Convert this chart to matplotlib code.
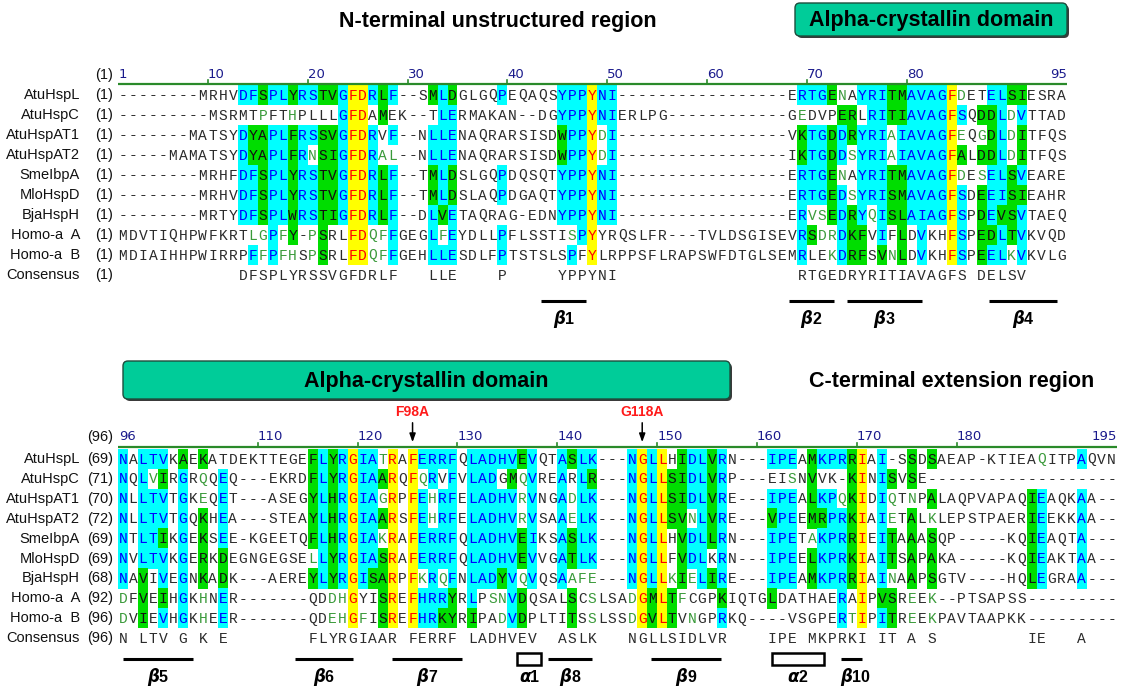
import matplotlib
matplotlib.use("Agg")
import matplotlib.pyplot as plt
from matplotlib.patches import Rectangle, FancyBboxPatch

# ---------------- data ----------------
names = ["AtuHspL", "AtuHspC", "AtuHspAT1", "AtuHspAT2", "SmeIbpA",
         "MloHspD", "BjaHspH", "Homo-a  A", "Homo-a  B"]

top_starts = [1, 1, 1, 1, 1, 1, 1, 1, 1]
bot_starts = [69, 71, 70, 72, 69, 69, 68, 92, 96]

top_seqs = [
    "--------MRHVDFSPLYRSTVGFDRLF--SMLDGLGQPEQAQSYPPYNI-----------------ERTGENAYRITMAVAGFDETELSIESRA",
    "---------MSRMTPFTHPLLLGFDAMEK--TLERMAKAN--DGYPPYNIERLPG------------GEDVPERLRITIAVAGFSQDDLDVTTAD",
    "-------MATSYDYAPLFRSSVGFDRVF--NLLENAQRARSISDWPPYDI-----------------VKTGDDRYRIAIAVAGFEQGDLDITFQS",
    "-----MAMATSYDYAPLFRNSIGFDRAL--NLLENAQRARSISDWPPYDI-----------------IKTGDDSYRIAIAVAGFALDDLDITFQS",
    "--------MRHFDFSPLYRSTVGFDRLF--TMLDSLGQPDQSQTYPPYNI-----------------ERTGENAYRITMAVAGFDESELSVEARE",
    "--------MRHVDFSPLYRSTVGFDRLF--TMLDSLAQPDGAQTYPPYNI-----------------ERTGEDSYRISMAVAGFSDEEISIEAHR",
    "--------MRTYDFSPLWRSTIGFDRLF--DLVETAQRAG-EDNYPPYNI-----------------ERVSEDRYQISLAIAGFSPDEVSVTAEQ",
    "MDVTIQHPWFKRTLGPFY-PSRLFDQFFGEGLFEYDLLPFLSSTISPYYRQSLFR---TVLDSGISEVRSDRDKFVIFLDVKHFSPEDLTVKVQD",
    "MDIAIHHPWIRRPFFPFHSPSRLFDQFFGEHLLESDLFPTSTSLSPFYLRPPSFLRAPSWFDTGLSEMRLEKDRFSVNLDVKHFSPEELKVKVLG",
]
# shading class per residue: '.' plain, 'g' green letter, 'c' cyan block,
# 'G' green block, 'y' yellow (identical in all)
top_cls = [
    (".........." "..ccGccGcc" "GGcyycGc.." ".GcG....c." "....cccycc"
     ".........." "........cc" "cGg.cccGGc" "cccyg..ccG" "G...."),
    (".........." "....g..g.." "..cyy.G..." "..cc......" "....cccycc"
     ".........." "........g." "..GG.ccGGc" "cccyc.GGcg" "c...."),
    (".........." "..cGGccGcc" "GGcyyc.c.." ".ccc......" "....Gccygc"
     ".........." "........Gc" "cGcGcccgcc" "cccyg.gGcg" "G...."),
    (".........." "..cGGccGcg" "GGcyycgg.." ".ccc......" "....Gccygc"
     ".........." "........Gc" "cGcgcccgcc" "cccyG.GGcg" "G...."),
    (".........." "..ccGccGcc" "GGcyycGc.." ".GcG....c." "....cccycc"
     ".........." "........cc" "cGg.cccGGc" "cccyg.gccG" "c...."),
    (".........." "..ccGccGcc" "GGcyycGc.." ".GcG....c." "....cccycc"
     ".........." "........cc" "cGcgcccGGc" "cccyc.GccG" "G...."),
    (".........." "..ccGccGcc" "GGcyycGc.." ".cGc......" "....cccycc"
     ".........." "........cg" "gGcGcgcGGc" "cccyc.GcGG" "c...."),
    (".........." "...ggcgG.g" "G..yyggc.." ".cgc....c." ".....gcy.."
     ".........." "........cG" "ggcGG.c.G." "c..yc.GGcG" "c...."),
    (".........." "...cgcgg.g" "G..yyggc.." ".ccc....c." ".....c.y.."
     ".........." "........c." ".gcGG.GgG." "c..yc.Gccg" "c...."),
]
top_cons = ("            " "DFSPLYRSSVGFDRLF" "   " "LLE" "    " "P" "     "
            "YPPYNI" "                  " "RTGEDRYRITIAVAGFS" " " "DELSV" "    ")

bot_seqs = [
    "NALTVKAEKATDEKTTEGEFLYRGIATRAFERRFQLADHVEVQTASLK---NGLLHIDLVRN---IPEAMKPRRIAI-SSDSAEAP-KTIEAQITPAQVN",
    "NQLVIRGRQQEQ---EKRDFLYRGIAARQFQRVFVLADGMQVREARLR---NGLLSIDLVRP---EISNVVK-KINISVSE-------------------",
    "NLLTVTGKEQET---ASEGYLHRGIAGRPFEHRFELADHVRVNGADLK---NGLLSIDLVRE---IPEALKPQKIDIQTNPALAQPVAPAQIEAQKAA--",
    "NLLTVTGQKHEA---STEAYLHRGIAARSFEHRFELADHVRVSAAELK---NGLLSVNLVRE---VPEEMRPRKIAIETALKLEPSTPAERIEEKKAA--",
    "NTLTIKGEKSEE-KGEETQFLHRGIAKRAFERRFQLADHVEIKSASLK---NGLLHVDLLRN---IPETAKPRRIEITAAASQP-----KQIEAQTA---",
    "NVLTVKGERKDEGNGEGSELLYRGIASRAFERRFQLADHVEVVGATLK---NGLLFVDLKRN---IPEELKPRKIAITSAPAKA-----KQIEAKTAA--",
    "NAVIVEGNKADK---AEREYLYRGISARPFKRQFNLADYVQVQSAAFE---NGLLKIELIRE---IPEAMKPRRIAINAAPSGTV----HQLEGRAA---",
    "DFVEIHGKHNER-------QDDHGYISREFHRRYRLPSNVDQSALSCSLSADGMLTFCGPKIQTGLDATHAERAIPVSREEK--PTSAPSS---------",
    "DVIEVHGKHEER-------QDEHGFISREFHRKYRIPADVDPLTITSSLSSDGVLTVNGPRKQ----VSGPERTIPITREEKPAVTAAPKK---------",
]
bot_cls = [
    ("c.ccc.G.G." ".........G" "cGcyccgy.y" "cccc.ccccc" "Gc..cGcc.."
     ".cycy.GccG" "c....ccc.G" "cccGy.c..G" ".G........" "..g...c..."),
    ("c.cgG.c.g." "c........G" "cGcyccGy.y" "gc.c.ccc.G" "gc..c.cG.."
     ".cycyGGccG" "c......g.G" "...Gy.cG.G" ".........." ".........."),
    ("c.ccc.c.g." "c........G" "cGcyccgy.y" "cgcc.ccccc" "gc..cgcc.."
     ".cycyGGccG" "c....ccc.G" "ccgGy.cg.g" ".G........" ".Gc...c..."),
    ("c.ccc.c.G." "c........G" "cGcyccGy.y" "cgcc.ccccc" "gc..cgcc.."
     ".cycyGGgcG" "c....Gcc.G" "GccGy.cg.G" ".g........" ".Gc...c..."),
    ("c.ccG.c.G." "c........G" "cGcyccgy.y" "cccc.ccccc" "Gc..cGcc.."
     ".cycy.GccG" "c....ccc.g" "cccGy.cG.G" ".G........" ".Gc...c..."),
    ("c.ccc.c.G." "G........g" "cGcyccGy.y" "cccc.ccccc" "Gc..cGcc.."
     ".cycy.Gcc." "c....ccc.G" "cccGy.cG.G" ".G........" ".Gc...c..."),
    ("c.G.c.c.G." "G........G" "cGcycGGy.y" "gcgc.cccGc" "gc..cggg.."
     ".cycygGgcG" "c....ccc.G" "cccGy.cg.G" ".G........" ".Gc...c..."),
    ("g.G.G.c.g." "c........." ".ggy..Gy.y" "cccG.c.ggc" "G....G.g.."
     ".gyGyGg..." "G....G...." "..c.y.GG.g" ".g........" ".........."),
    ("g.G.c.c.g." "c........." ".ggyg.Gy.y" "ccGG.G..gc" "G....G.g.."
     ".gyGyG.g.." "c........." "..cgy.cG.g" ".g........" ".........."),
]
bot_cons = ("N LTV G K E" "        " "FLYRGIAAR" " " "FERRF" " " "LADHVEV" "  "
            "ASLK" "   " "NGLLSIDLVR" "    " "IPE" " " "MKPRKI" " " "IT" " " "A"
            " " "S" "         " "IE" "   " "A" "   ")

top_ruler = [1, 10, 20, 30, 40, 50, 60, 70, 80, 95]
bot_ruler = [96, 110, 120, 130, 140, 150, 160, 170, 180, 195]

# secondary structure: (kind, number, start column, end column)
top_ss = [("b", "1", 43.4, 47.9), ("b", "2", 68.2, 72.7),
          ("b", "3", 74.0, 81.5), ("b", "4", 88.2, 95.0)]
bot_ss = [("b", "5", 96.5, 103.5), ("b", "6", 113.7, 119.5),
          ("b", "7", 123.4, 130.5), ("a", "1", 136.0, 138.4),
          ("b", "8", 139.1, 143.5), ("b", "9", 149.4, 156.4),
          ("a", "2", 161.5, 166.7), ("b", "10", 168.4, 170.5)]

mutations = [("F98A", 125), ("G118A", 148)]

# ---------------- style ----------------
W, H = 1126, 686
X0, CW = 118.0, 9.985
MONO = "Liberation Mono"
SANS = "Liberation Sans"

BG = {"c": "#00ffff", "G": "#00dd00", "y": "#ffff00"}
FG = {".": "#2b2b2b", "g": "#3a9a3a", "c": "#0000ff", "G": "#111111", "y": "#ff0000"}

fig = plt.figure(figsize=(W / 100, H / 100), dpi=100)
ax = fig.add_axes([0, 0, 1, 1])
ax.set_xlim(0, W)
ax.set_ylim(H, 0)
ax.axis("off")


def cx(pos, first):
    return X0 + (pos - first) * CW


def draw_block(first, n, seqs, cls, cons, starts, ruler, ruler_line_y,
               ruler_lab_y, y0, rh):
    seqs = [s.ljust(n, "-")[:n] for s in seqs]
    cls = [c.ljust(n, ".")[:n] for c in cls]
    cons = cons.ljust(n)[:n]
    # ruler
    ax.plot([cx(first, first), cx(first + n, first)], [ruler_line_y] * 2,
            color="#2a8a2a", lw=1.6, solid_capstyle="butt")
    for i, v in enumerate(ruler):
        if i == 0:
            ax.text(cx(v, first) + 1, ruler_lab_y, str(v), ha="left", va="center",
                    color="#1a1a8c", fontsize=9.5, family="DejaVu Sans")
        elif i == len(ruler) - 1:
            ax.text(cx(first + n, first), ruler_lab_y, str(v), ha="right",
                    va="center", color="#1a1a8c", fontsize=9.5,
                    family="DejaVu Sans")
        else:
            ax.text(cx(v, first), ruler_lab_y, str(v), ha="left", va="center",
                    color="#1a1a8c", fontsize=9.5, family="DejaVu Sans")
            ax.plot([cx(v, first)] * 2, [ruler_line_y, ruler_line_y - 4],
                    color="#2a8a2a", lw=1.2)
    ax.text(113, ruler_lab_y, "(%d)" % first, ha="right", va="center",
            fontsize=10.5, family=SANS, color="#111111")
    # rows
    for r, (s, c) in enumerate(zip(seqs, cls)):
        yc = y0 + r * rh
        ax.text(80, yc, names[r], ha="right", va="center", fontsize=10.5,
                family=SANS, color="#111111")
        ax.text(113, yc, "(%d)" % starts[r], ha="right", va="center",
                fontsize=10.5, family=SANS, color="#111111")
        k = 0
        while k < n:
            ch = c[k]
            j = k
            while j < n and c[j] == ch:
                j += 1
            if ch in BG:
                ax.add_patch(Rectangle((cx(first + k, first), yc - rh / 2 - 0.3),
                                       (j - k) * CW, rh + 0.6, facecolor=BG[ch],
                                       edgecolor="none", lw=0, zorder=1))
            k = j
        for k, aa in enumerate(s):
            ax.text(cx(first + k, first) + CW / 2, yc + 0.5, aa, ha="center",
                    va="center", fontsize=10.5, family=MONO,
                    color=FG.get(c[k], "#2b2b2b"), zorder=3)
    yc = y0 + len(seqs) * rh
    ax.text(80, yc, "Consensus", ha="right", va="center", fontsize=10.5,
            family=SANS, color="#111111")
    ax.text(113, yc, "(%d)" % first, ha="right", va="center", fontsize=10.5,
            family=SANS, color="#111111")
    for k, aa in enumerate(cons):
        if aa != " ":
            ax.text(cx(first + k, first) + CW / 2, yc + 0.5, aa, ha="center",
                    va="center", fontsize=10.5, family=MONO, color="#2b2b2b")


def draw_ss(elems, first, line_y, lab_y):
    for kind, num, a, b in elems:
        xa, xb = cx(a, first), cx(b, first)
        if kind == "b":
            ax.plot([xa, xb], [line_y, line_y], color="black", lw=2.2,
                    solid_capstyle="butt")
            sym = "\u03b2"
        else:
            ax.add_patch(Rectangle((xa, line_y - 6), xb - xa, 12, facecolor="none",
                                   edgecolor="black", lw=1.8))
            sym = "\u03b1"
        xm = (xa + xb) / 2
        ax.text(xm + 1, lab_y, sym, ha="right", va="center", fontsize=12,
                family="DejaVu Sans", fontweight="bold", style="italic")
        ax.text(xm + 1, lab_y, num, ha="left", va="center", fontsize=11.5,
                family=SANS, fontweight="bold")


def domain_box(x1, x2, y1, y2, label):
    ax.add_patch(FancyBboxPatch((x1 + 2, y1 + 2), x2 - x1, y2 - y1,
                                boxstyle="round,pad=0,rounding_size=5",
                                facecolor="#3a3a3a", edgecolor="none", zorder=1))
    ax.add_patch(FancyBboxPatch((x1, y1), x2 - x1, y2 - y1,
                                boxstyle="round,pad=0,rounding_size=5",
                                facecolor="#00cc99", edgecolor="#1d4d3d", lw=1.0,
                                zorder=2))
    ax.text((x1 + x2) / 2, (y1 + y2) / 2 + 1, label, ha="center", va="center",
            fontsize=15.5, family=SANS, fontweight="bold", zorder=3)


# headers
ax.text(498, 21, "N-terminal unstructured region", ha="center", va="center",
        fontsize=15.5, family=SANS, fontweight="bold")
domain_box(795, 1067, 3, 36, "Alpha-crystallin domain")
domain_box(123, 730, 361, 399, "Alpha-crystallin domain")
ax.text(952, 381, "C-terminal extension region", ha="center", va="center",
        fontsize=15.5, family=SANS, fontweight="bold")

draw_block(1, 95, top_seqs, top_cls, top_cons, top_starts, top_ruler, 83.5, 75,
           95, 20.0)
draw_block(96, 100, bot_seqs, bot_cls, bot_cons, bot_starts, bot_ruler, 447, 437,
           459, 19.9)

draw_ss(top_ss, 1, 301, 319)
draw_ss(bot_ss, 96, 659, 677)

for lab, col in mutations:
    x = cx(col, 96) + CW / 2
    ax.text(x, 412, lab, ha="center", va="center", fontsize=10, family=SANS,
            fontweight="bold", color="#ff1a1a")
    ax.annotate("", xy=(x, 445), xytext=(x, 420),
                arrowprops=dict(arrowstyle="-|>,head_length=0.5,head_width=0.18",
                                color="black", lw=1.1))

fig.savefig("out.png", dpi=100)
